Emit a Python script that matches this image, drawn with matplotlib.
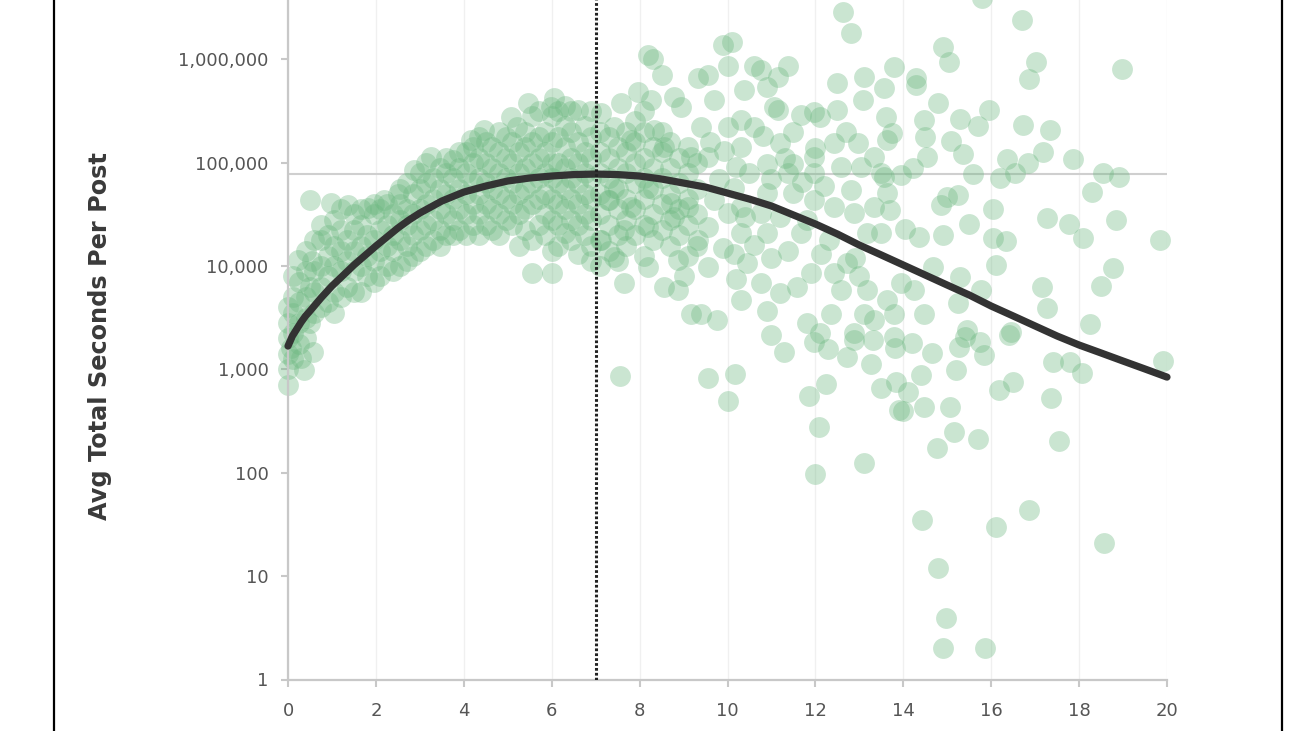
import matplotlib
matplotlib.use('Agg')
import matplotlib.pyplot as plt
from matplotlib.lines import Line2D
from matplotlib.ticker import FixedLocator, NullLocator

# ---------------- data ----------------
# fitted curve (x = number, y = avg total seconds per post)
curve_x = [0, 0.1, 0.2, 0.3, 0.4, 0.5, 0.625, 0.75, 0.875, 1, 1.25, 1.5, 1.75, 2,
           2.25, 2.5, 2.75, 3, 3.5, 4, 4.5, 5, 5.5, 6, 6.5, 7,
           7.5, 8, 8.5, 9, 9.5, 10, 10.5, 11, 11.5, 12, 12.5, 13, 13.5, 14, 14.5,
           15, 15.5, 16, 16.5, 17, 17.5, 18, 18.5, 19, 19.5, 20]
curve_y = [1683, 2104, 2460, 2872, 3289, 3673, 4246, 4909, 5610, 6412, 8093, 10233,
           12647, 15631, 19090, 23335, 27860, 32584, 42560, 51999,
           59429, 66527, 71121, 74302, 76736, 77625, 76736, 74302, 69502, 63533,
           58076, 50816, 44463, 38107, 31189, 25527, 20417, 15959, 12794, 10233,
           8185, 6546, 5248, 4102, 3289, 2630, 2104, 1722, 1442, 1205, 1009, 843]

peak_x = 7
peak_y = 77600

# scatter points: rising part (x 0-3)
pts_rise = [
    (0.00, 708), (0.00, 1000), (0.00, 1410), (0.00, 2000), (0.00, 2820), (0.00, 3980),
    (0.07, 1620), (0.30, 1290), (0.36, 980), (0.57, 1480),
    (0.12, 1260), (0.12, 2240), (0.12, 3550), (0.12, 5010), (0.12, 7940),
    (0.25, 1780), (0.25, 2820), (0.25, 4470), (0.25, 7080), (0.22, 11500),
    (0.40, 2000), (0.40, 3160), (0.40, 5010), (0.40, 8910), (0.40, 14100),
    (0.50, 43700), (0.50, 2820), (0.50, 6310), (0.55, 11200),
    (0.60, 3550), (0.60, 5620), (0.60, 8910), (0.60, 17800),
    (0.75, 3980), (0.75, 6310), (0.75, 10000), (0.75, 17800), (0.75, 25100),
    (0.90, 4470), (0.90, 7940), (0.90, 12600), (0.90, 20000), (0.98, 40700),
    (1.05, 3550), (1.05, 5620), (1.05, 10000), (1.05, 15800), (1.05, 28200),
    (1.20, 5010), (1.20, 8910), (1.20, 14100), (1.20, 22400), (1.20, 35500),
    (1.35, 6310), (1.35, 11200), (1.35, 17800), (1.36, 39000),
    (1.50, 5620), (1.50, 8910), (1.50, 14100), (1.50, 22400), (1.50, 31600),
    (1.65, 5620), (1.65, 10000), (1.65, 15800), (1.65, 25100), (1.65, 35500),
    (1.80, 7940), (1.80, 12600), (1.80, 20000), (1.81, 36300),
    (1.95, 7080), (1.95, 11200), (1.95, 17800), (1.95, 31600), (1.95, 39800),
    (2.10, 7940), (2.10, 14100), (2.10, 22400), (2.10, 35500), (2.18, 43600),
    (2.25, 10000), (2.25, 15800), (2.25, 25100), (2.25, 39800),
    (2.40, 8910), (2.40, 14100), (2.40, 20000), (2.40, 31600), (2.50, 50100),
    (2.55, 10000), (2.55, 17800), (2.55, 28200), (2.55, 39800), (2.55, 56200),
    (2.70, 11200), (2.70, 15800), (2.70, 25100), (2.70, 35500), (2.70, 63100),
    (2.85, 12600), (2.85, 20000), (2.85, 31600), (2.85, 50100), (2.86, 85100),
]

# scatter points: hump (x 3-7)
pts_hump = [
    (3.00, 14100), (3.00, 22400), (3.00, 35500), (3.00, 56200), (3.00, 79400),
    (3.15, 15800), (3.15, 25100), (3.15, 39800), (3.15, 63100), (3.15, 100000),
    (3.30, 17800), (3.30, 28200), (3.30, 44700), (3.30, 70800), (3.25, 113000),
    (3.45, 15800), (3.45, 22400), (3.45, 35500), (3.45, 56200), (3.45, 89100),
    (3.60, 20000), (3.60, 31600), (3.60, 50100), (3.60, 79400), (3.60, 112000),
    (3.75, 20000), (3.75, 28200), (3.75, 44700), (3.75, 70800), (3.75, 107000),
    (3.90, 22400), (3.90, 35500), (3.90, 56200), (3.90, 89100), (3.90, 126000),
    (4.05, 20000), (4.05, 31600), (4.05, 50100), (4.05, 79400), (4.05, 126000), (4.16, 165000),
    (4.20, 25100), (4.20, 39800), (4.20, 63100), (4.20, 100000), (4.20, 141000),
    (4.35, 20000), (4.35, 31600), (4.35, 50100), (4.35, 70800), (4.35, 112000), (4.35, 178000),
    (4.50, 25100), (4.50, 39800), (4.50, 63100), (4.50, 100000), (4.50, 158000), (4.46, 207000),
    (4.65, 22400), (4.65, 35500), (4.65, 56200), (4.65, 89100), (4.65, 141000),
    (4.80, 20000), (4.80, 31600), (4.80, 50100), (4.80, 79400), (4.80, 126000), (4.80, 200000),
    (4.95, 28200), (4.95, 44700), (4.95, 70800), (4.95, 112000), (4.95, 178000), (5.07, 277000),
    (5.10, 25100), (5.10, 39800), (5.10, 63100), (5.10, 100000), (5.10, 158000),
    (5.25, 15800), (5.25, 31600), (5.25, 50100), (5.25, 79400), (5.25, 126000), (5.22, 222000),
    (5.40, 22400), (5.40, 35500), (5.40, 56200), (5.40, 89100), (5.40, 141000), (5.40, 200000), (5.45, 378000),
    (5.55, 8510), (5.55, 17800), (5.55, 39800), (5.55, 63100), (5.55, 100000), (5.55, 158000), (5.55, 282000),
    (5.70, 25100), (5.70, 44700), (5.70, 70800), (5.70, 112000), (5.70, 178000), (5.70, 316000),
    (5.85, 20000), (5.85, 31600), (5.85, 50100), (5.85, 79400), (5.85, 126000), (5.85, 200000), (5.98, 345000),
    (6.00, 8510), (6.00, 14100), (6.00, 28200), (6.00, 44700), (6.00, 70800), (6.00, 100000),
    (6.00, 158000), (6.00, 282000), (6.05, 420000),
    (6.15, 15800), (6.15, 25100), (6.15, 39800), (6.15, 63100), (6.15, 100000), (6.15, 178000), (6.15, 316000),
    (6.30, 20900), (6.30, 35500), (6.30, 56200), (6.30, 89100), (6.30, 141000), (6.30, 224000), (6.30, 355000),
    (6.45, 17800), (6.45, 28200), (6.45, 44700), (6.45, 70800), (6.45, 112000), (6.45, 200000), (6.45, 316000),
    (6.60, 13200), (6.60, 25100), (6.60, 39800), (6.60, 63100), (6.60, 100000), (6.60, 158000), (6.60, 322000),
    (6.75, 20000), (6.75, 31600), (6.75, 50100), (6.75, 79400), (6.75, 126000), (6.75, 224000),
    (6.90, 11200), (6.90, 15800), (6.90, 28200), (6.90, 44700), (6.90, 70800), (6.90, 112000),
    (6.90, 178000), (6.90, 316000),
]

# scatter points: just right of the peak (x 7-9.3)
pts_mid = [
    (7.10, 10000), (7.10, 17800), (7.10, 31600), (7.10, 50100), (7.10, 79400), (7.10, 126000), (7.10, 200000), (7.12, 300000),
    (7.30, 14100), (7.30, 25100), (7.30, 43700), (7.30, 70800), (7.30, 112000), (7.30, 178000), (7.41, 222000),
    (7.50, 11200), (7.50, 20000), (7.50, 35500), (7.50, 56200), (7.50, 89100), (7.50, 141000), (7.57, 378000),
    (7.70, 15800), (7.70, 28200), (7.70, 44700), (7.70, 79400), (7.70, 126000), (7.70, 200000),
    (7.90, 20000), (7.90, 35500), (7.90, 63100), (7.90, 100000), (7.90, 158000), (7.90, 251000), (7.96, 480000),
    (8.10, 12600), (8.10, 25100), (8.10, 44700), (8.10, 70800), (8.10, 112000), (8.10, 200000), (8.10, 316000),
    (8.30, 17800), (8.30, 31600), (8.30, 56200), (8.30, 89100), (8.30, 141000), (8.26, 405000),
    (8.50, 22400), (8.50, 39800), (8.50, 70800), (8.50, 126000), (8.50, 200000), (8.52, 705000),
    (8.70, 15800), (8.70, 28200), (8.70, 50100), (8.70, 89100), (8.70, 158000), (8.78, 435000),
    (8.90, 20000), (8.90, 35500), (8.90, 63100), (8.90, 112000), (8.94, 345000),
    (9.10, 12600), (9.10, 25100), (9.10, 44700), (9.10, 79400), (9.10, 141000),
    (9.30, 15800), (9.30, 31600), (9.30, 56200), (9.30, 100000), (9.32, 660000),
    (8.18, 1100000), (8.30, 1000000),
]

# scatter points: scattered part (x 7-14)
pts_spread = [
    (12.62, 2880000), (12.80, 1780000), (9.89, 1380000), (10.10, 1480000),
    (10.00, 870000), (10.60, 870000), (10.76, 790000), (11.37, 870000), (11.14, 675000),
    (9.55, 705000), (10.37, 500000), (10.90, 540000), (11.05, 345000), (12.50, 590000),
    (13.08, 405000), (13.10, 675000), (13.55, 525000), (13.78, 835000), (13.60, 277000),
    (12.50, 322000), (11.96, 310000), (11.67, 290000), (11.14, 322000),
    (9.69, 405000), (10.30, 257000), (10.00, 222000), (10.60, 222000), (9.39, 222000),
    (8.33, 205000), (7.80, 165000), (8.55, 141000), (9.16, 113000), (9.55, 113000),
    (9.92, 131000), (10.30, 141000), (10.90, 98000), (11.20, 155000), (11.50, 98000),
    (11.96, 113000), (12.42, 155000), (12.10, 277000), (12.96, 155000), (13.33, 113000),
    (13.64, 165000), (13.03, 91000), (12.58, 91000), (11.96, 79000), (11.37, 79000),
    (13.49, 79000),
    (7.27, 43600), (7.80, 37000), (8.18, 24000), (8.78, 29500), (8.71, 40700),
    (7.64, 22400), (7.12, 17800), (7.41, 12300), (8.18, 9800), (7.64, 6800),
    (8.55, 6300), (8.87, 5900), (8.87, 11500), (9.32, 17800), (9.55, 9800),
    (9.16, 3470), (9.39, 3470), (9.77, 3000), (10.14, 13200), (10.45, 10700),
    (10.30, 4700), (10.76, 6800), (10.90, 3700), (11.20, 5500), (11.59, 6300),
    (11.82, 2800), (12.10, 2240), (12.35, 3470), (12.58, 5900), (12.42, 8500),
    (12.12, 13200), (12.73, 10700), (13.18, 5900), (13.33, 3000), (13.10, 3470),
    (13.64, 4700), (13.78, 2050), (12.87, 2240), (11.37, 14100), (11.67, 20900),
    (11.20, 29500), (10.76, 32400), (10.30, 37000), (10.00, 32400), (9.69, 43600),
    (10.14, 57500), (10.90, 51000), (11.50, 51000), (11.96, 43600), (12.42, 37000),
    (12.87, 32400), (13.33, 37000), (13.64, 51000), (13.18, 20900), (13.49, 20900),
    (10.90, 20900), (10.30, 20900), (9.55, 24000), (9.09, 37000), (8.18, 57500),
    (7.41, 57500),
    (9.80, 70000), (10.50, 80000), (11.00, 70000), (11.70, 65000), (12.20, 60000),
    (12.80, 55000), (10.20, 90000), (11.30, 110000), (12.00, 140000), (9.60, 160000),
    (10.80, 180000), (12.70, 200000), (11.50, 200000), (10.40, 30000), (11.80, 28000),
    (12.30, 18000), (11.00, 12000), (9.90, 15000), (10.60, 16000), (12.90, 12000),
    (13.00, 8000), (11.90, 8500), (10.20, 7500), (9.00, 8000),
    (7.55, 870), (9.55, 830), (10.17, 905), (10.00, 500), (11.28, 1480), (11.85, 550),
    (12.23, 720), (12.08, 275), (12.00, 97), (13.10, 124), (10.98, 2150), (12.28, 1580),
    (12.73, 1320), (13.26, 1120), (13.49, 665), (13.83, 760), (13.90, 405), (11.96, 1850),
    (12.87, 1920), (13.30, 1920),
]

# scatter points: sparse right side (x 14-20)
pts_tail = [
    (19.90, 1200), (17.40, 1180), (17.80, 1180), (18.07, 915), (17.35, 525), (17.55, 204),
    (16.17, 630), (16.50, 760), (16.85, 44), (16.12, 30), (18.56, 21), (14.42, 35),
    (14.80, 12), (14.98, 3.9), (14.90, 2), (15.85, 2), (14.77, 174), (15.16, 247),
    (15.70, 213), (15.06, 433), (14.46, 433), (14.00, 400), (15.19, 986), (14.10, 605),
    (13.80, 1610), (14.20, 1790), (14.66, 1440), (14.40, 890), (15.26, 1650),
    (15.83, 1380), (15.75, 1850), (15.40, 2050), (16.40, 2150),
    (16.70, 2400000), (15.80, 3900000), (14.90, 1310000), (15.03, 940000),
    (17.03, 940000), (16.87, 645000), (18.98, 800000), (14.28, 660000), (14.28, 560000),
    (14.78, 375000), (14.46, 257000), (15.30, 263000), (15.94, 322000), (15.69, 225000),
    (16.72, 230000), (17.33, 205000), (13.75, 193000), (14.49, 178000), (15.08, 162000),
    (15.35, 121000), (14.55, 113000), (16.37, 108000), (16.83, 100000), (17.17, 126000),
    (17.85, 108000), (14.21, 89000), (15.58, 78000), (16.21, 71000), (16.55, 79000),
    (18.55, 79000), (18.90, 72000), (18.30, 52000), (13.55, 72000), (13.94, 76000),
    (15.00, 47000), (14.85, 39000), (15.24, 49000), (16.03, 35500), (15.49, 25400),
    (17.28, 29000), (17.76, 25400), (18.10, 18600), (18.85, 27700), (19.83, 17800),
    (13.70, 35000), (14.05, 23000), (14.35, 19000), (14.90, 20000), (16.03, 18600),
    (16.33, 17400), (16.10, 10200), (14.68, 9800), (18.78, 9500), (18.49, 6400),
    (17.15, 6300), (17.26, 3900), (18.24, 2750), (16.44, 2300), (15.30, 7800),
    (15.76, 5900), (15.24, 4370), (14.46, 3470), (13.94, 6800), (14.24, 5900),
    (13.78, 3470), (15.46, 2400),
]

y_ticks = [1, 10, 100, 1000, 10000, 100000, 1000000]
y_tick_labels = ['1', '10', '100', '1,000', '10,000', '100,000', '1,000,000']
x_ticks = [0, 2, 4, 6, 8, 10, 12, 14, 16, 18, 20]
y_label = 'Avg Total Seconds Per Post'

# ---------------- figure ----------------
W, H = 1300, 731
fig = plt.figure(figsize=(W / 100, H / 100), dpi=100)
ax = fig.add_axes([288 / W, 1 - 679.5 / H, (1167 - 288) / W, 679.5 / H])
ax.set_yscale('log')
ax.set_xlim(0, 20)
ax.set_ylim(1, 3.75e6)

all_pts = pts_rise + pts_hump + pts_mid + pts_spread + pts_tail
sx = [p[0] for p in all_pts]
sy = [p[1] for p in all_pts]

ax.axhline(peak_y, color='#cfcfcf', lw=1.5, zorder=1)
ax.scatter(sx, sy, s=225, c='#6cb880', alpha=0.36, linewidths=0,
           clip_on=False, zorder=2)
ax.plot(curve_x, curve_y, color='#333333', lw=5.2, solid_capstyle='round',
        solid_joinstyle='round', zorder=4, clip_on=False)
ax.axvline(peak_x, color='#222222', lw=2.2, linestyle=(0, (0.9, 0.7)), zorder=5)

# axes styling
for side in ('top', 'right'):
    ax.spines[side].set_visible(False)
for side in ('left', 'bottom'):
    ax.spines[side].set_color('#c8c8c8')
    ax.spines[side].set_linewidth(1.6)

ax.xaxis.set_major_locator(FixedLocator(x_ticks))
ax.set_xticklabels([str(v) for v in x_ticks])
ax.yaxis.set_major_locator(FixedLocator(y_ticks))
ax.yaxis.set_minor_locator(NullLocator())
ax.set_yticklabels(y_tick_labels)
ax.xaxis.grid(True, color='#f0f0f0', lw=1)
ax.set_axisbelow(True)

ax.tick_params(axis='both', colors='#c8c8c8', length=5, width=1.5,
               labelcolor='#555555', labelsize=13)
ax.tick_params(axis='x', pad=11)
ax.tick_params(axis='y', pad=9)

fig.text(100 / W, 1 - 336 / H, y_label, rotation=90, ha='center', va='center',
         fontsize=17.3, fontweight='bold', color='#3a3a3a')

# outer frame lines (left / right edges of the card)
fig.add_artist(Line2D([53.5 / W, 53.5 / W], [0, 1], transform=fig.transFigure,
                      color='black', lw=1.6))
fig.add_artist(Line2D([1281.5 / W, 1281.5 / W], [0, 1], transform=fig.transFigure,
                      color='black', lw=1.6))

fig.savefig('out.png', dpi=100)
